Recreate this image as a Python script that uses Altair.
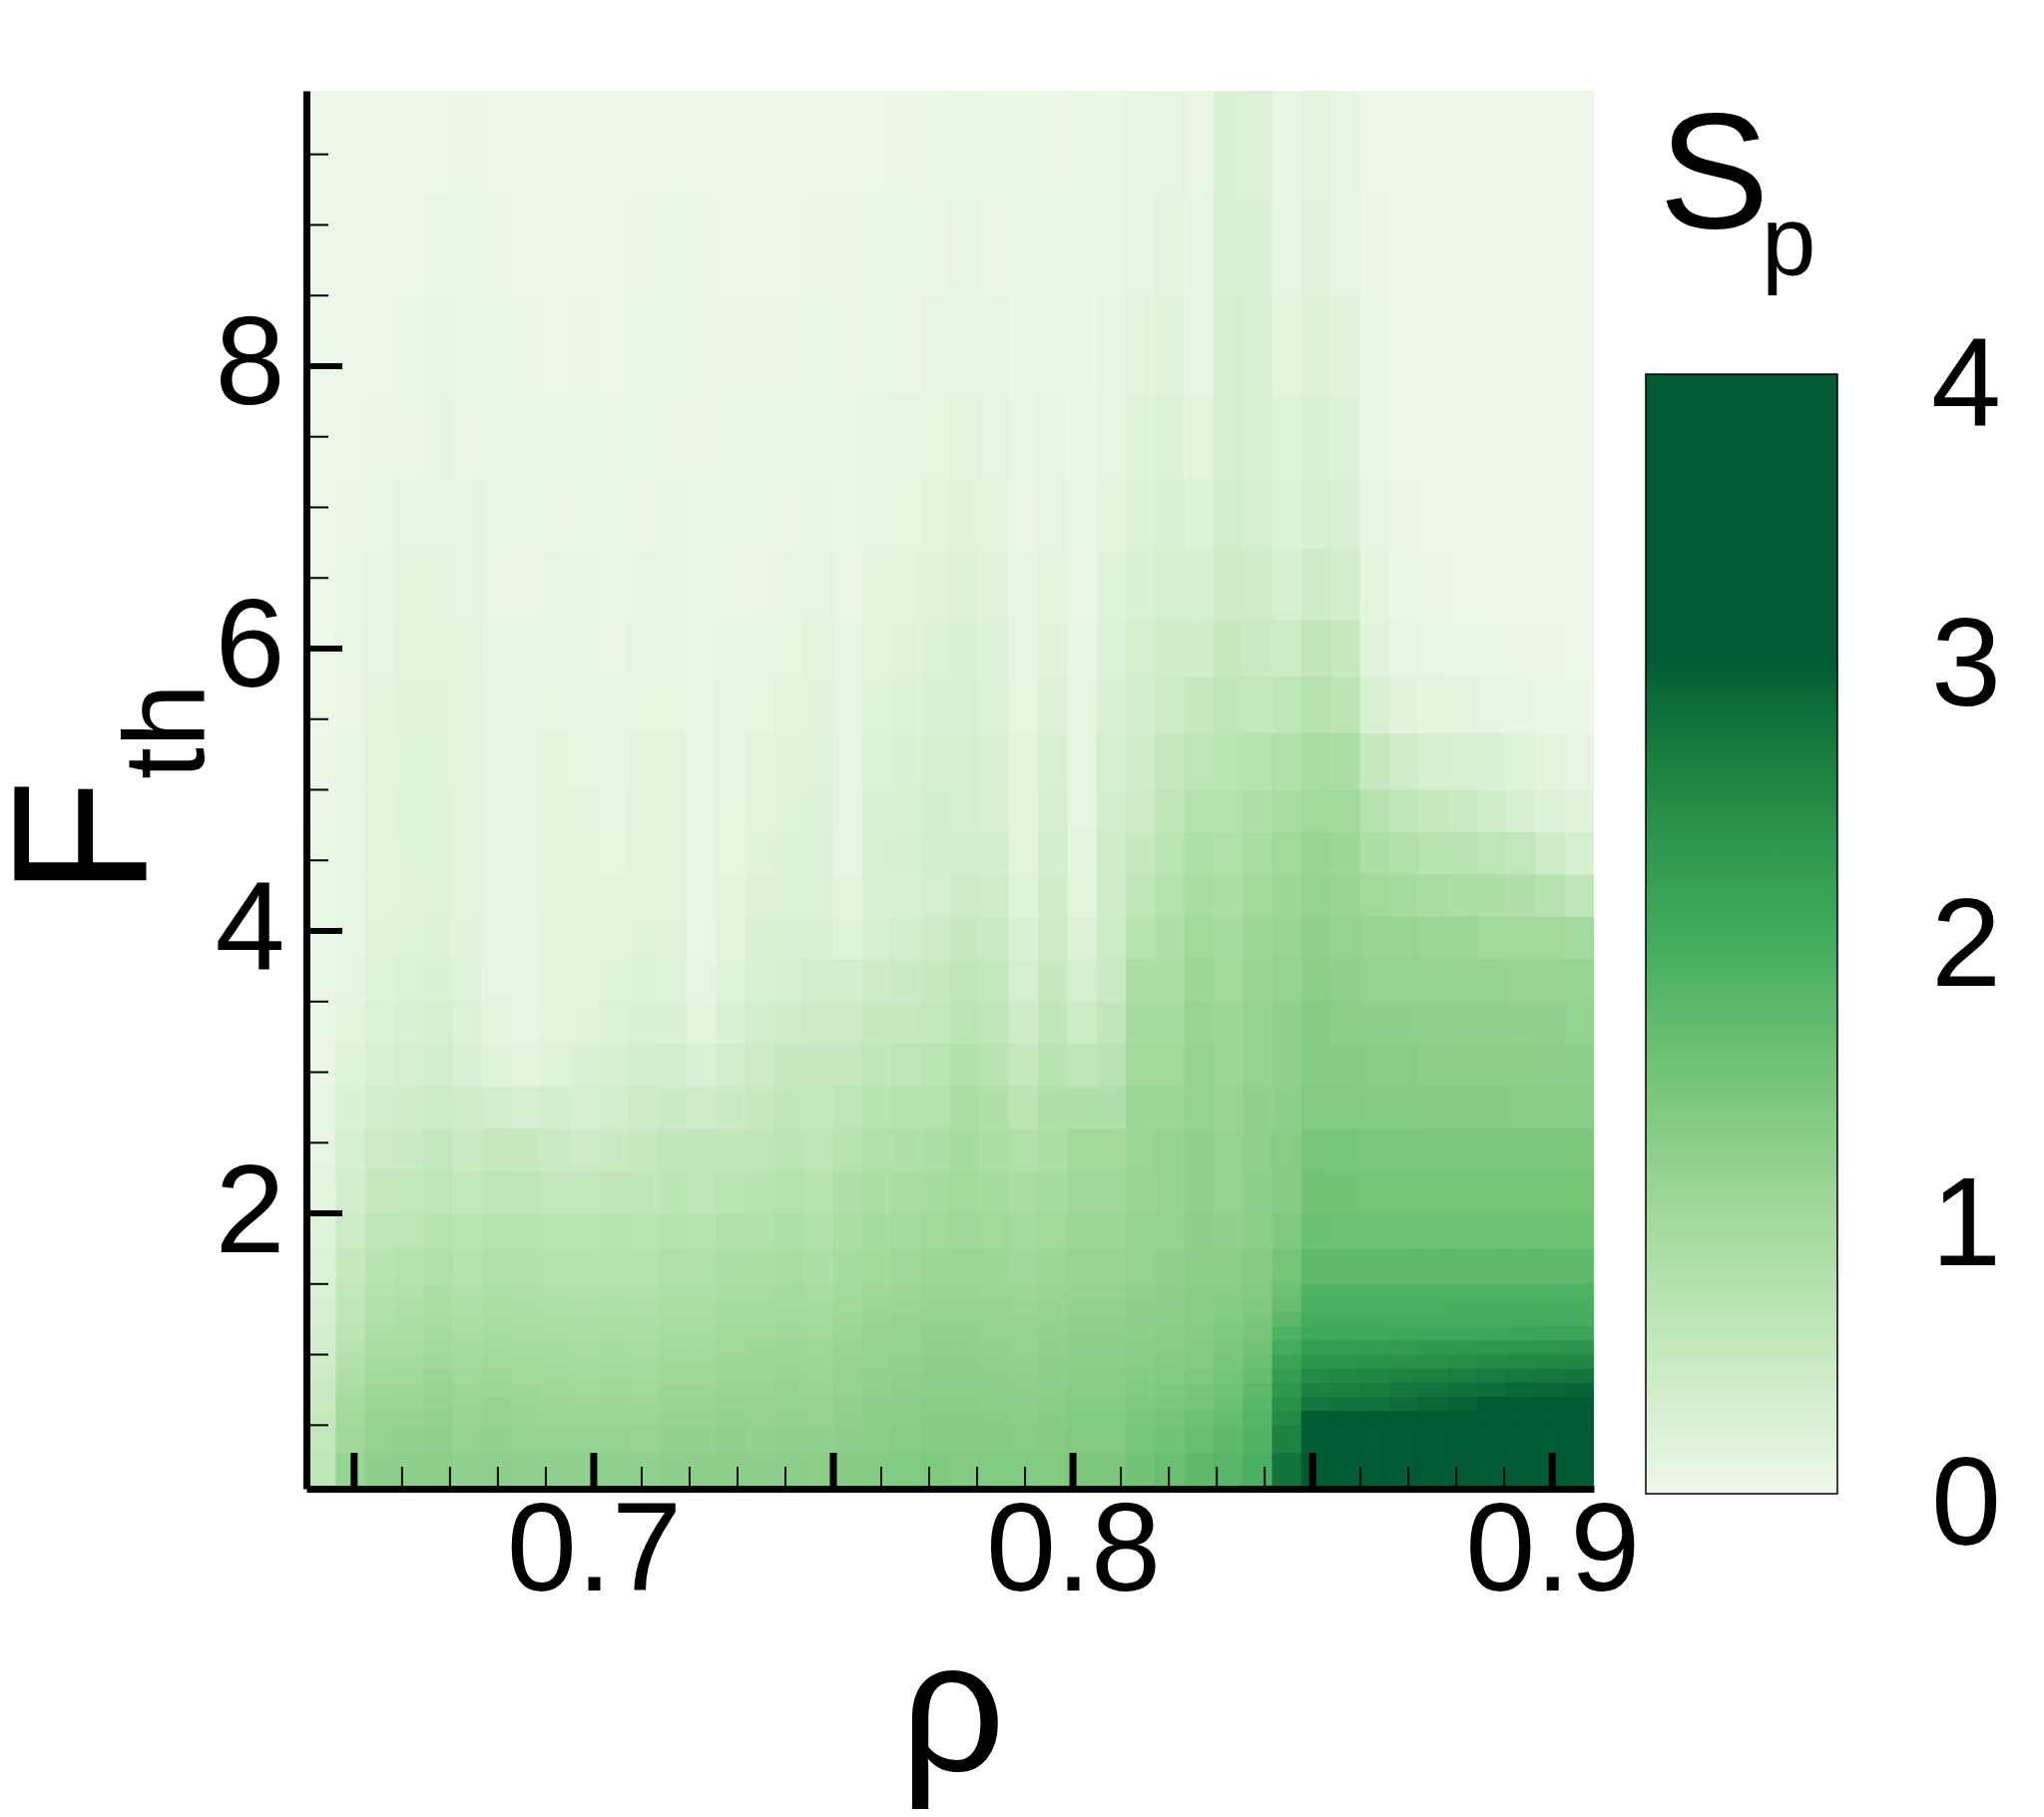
import altair as alt
import pandas as pd

# ---- axis ticks ----
x_labelled = [0.7, 0.8, 0.9]
x_major = [0.65, 0.70, 0.75, 0.80, 0.85, 0.90]
x_minor = [0.66, 0.67, 0.68, 0.69, 0.71, 0.72, 0.73, 0.74, 0.76, 0.77, 0.78, 0.79,
           0.81, 0.82, 0.83, 0.84, 0.86, 0.87, 0.88, 0.89]
y_major = [2, 4, 6, 8]
y_minor = [0.5, 1, 1.5, 2.5, 3, 3.5, 4.5, 5, 5.5, 6.5, 7, 7.5, 8.5, 9, 9.5]
legend_ticks = [0, 1, 2, 3, 4]
x_domain = [0.64004, 0.90869]
y_domain = [0.05, 9.95]

# ---- colour map of the bar ----
color_stops = [0, 0.5, 1, 1.5, 2, 2.5, 3, 4]
color_range = ["#edf8e9", "#c7e9c0", "#a1d99b", "#74c476", "#41ab5d", "#238b45", "#005a32", "#005a32"]

# ---- field values, top row first ----
n_cols = 44
row_edges = [9.95, 9.2, 8.5, 7.8, 7.2, 6.7, 6.2, 5.8, 5.4, 5.0, 4.7, 4.4, 4.1, 3.8, 3.5, 3.2, 2.9, 2.6,
             2.3, 2.0, 1.75, 1.5, 1.4, 1.3, 1.2, 1.1, 1.0, 0.9, 0.8, 0.7, 0.6, 0.5, 0.3, 0.05]
S_rows = [
 [.02,.02,.02,.02,.03,.04,.03,.03,.02,.02,.02,.03,.03,.03,.02,.02,.02,.03,.03,.03,.04,.05,.06,.05,.05,.04,.06,.05,.08,.10,.07,.25,.22,.08,.14,.08,.03,.02,.02,.02,.02,.02,.02,.02],
 [.02,.02,.02,.03,.06,.05,.04,.03,.03,.03,.03,.04,.05,.04,.03,.03,.03,.04,.04,.05,.05,.07,.08,.07,.05,.05,.05,.06,.10,.13,.08,.27,.24,.09,.16,.10,.04,.02,.02,.02,.02,.02,.02,.02],
 [.02,.02,.03,.05,.08,.06,.05,.04,.03,.04,.03,.05,.06,.04,.04,.04,.04,.05,.04,.06,.07,.09,.10,.08,.05,.06,.05,.08,.14,.18,.08,.30,.26,.12,.20,.16,.05,.02,.02,.02,.02,.02,.02,.02],
 [.02,.03,.04,.07,.09,.07,.06,.05,.05,.05,.04,.06,.07,.04,.05,.05,.05,.06,.05,.08,.09,.11,.12,.10,.06,.08,.05,.10,.18,.22,.12,.32,.28,.18,.24,.20,.06,.03,.02,.02,.02,.02,.02,.02],
 [.03,.04,.06,.09,.10,.09,.06,.06,.07,.06,.05,.07,.08,.05,.06,.06,.07,.08,.06,.10,.11,.13,.16,.13,.07,.10,.06,.14,.22,.27,.20,.36,.32,.22,.30,.26,.08,.04,.03,.02,.02,.02,.02,.02],
 [.03,.05,.08,.12,.12,.10,.07,.07,.08,.08,.06,.08,.09,.05,.07,.07,.09,.10,.07,.13,.13,.16,.20,.16,.08,.12,.07,.18,.27,.32,.30,.42,.40,.32,.42,.34,.12,.05,.04,.03,.03,.02,.02,.02],
 [.03,.06,.10,.14,.14,.12,.08,.08,.10,.09,.07,.10,.10,.06,.08,.09,.11,.13,.08,.15,.16,.20,.24,.20,.10,.16,.08,.22,.33,.38,.38,.50,.46,.45,.58,.50,.16,.08,.06,.05,.05,.04,.04,.03],
 [.03,.07,.12,.16,.16,.14,.09,.09,.11,.10,.08,.11,.11,.06,.09,.11,.14,.16,.09,.18,.20,.25,.26,.22,.11,.22,.09,.26,.36,.45,.50,.58,.56,.60,.72,.65,.28,.16,.12,.12,.10,.08,.06,.05],
 [.04,.08,.14,.17,.17,.14,.10,.10,.12,.11,.09,.12,.12,.06,.10,.13,.16,.18,.10,.22,.24,.30,.30,.26,.12,.28,.10,.32,.40,.52,.62,.66,.68,.78,.90,.85,.50,.40,.30,.28,.24,.18,.12,.10],
 [.04,.08,.15,.18,.18,.14,.10,.10,.13,.12,.10,.13,.13,.06,.11,.15,.18,.20,.10,.26,.28,.34,.32,.28,.13,.32,.10,.34,.42,.58,.72,.72,.80,.90,1.0,1.0,.72,.60,.50,.48,.40,.30,.20,.16],
 [.05,.08,.14,.17,.18,.14,.10,.10,.12,.12,.11,.14,.14,.06,.11,.17,.20,.22,.10,.28,.30,.34,.36,.34,.15,.34,.12,.38,.50,.64,.82,.78,.90,1.0,1.1,1.05,.85,.78,.70,.68,.62,.55,.42,.30],
 [.05,.08,.14,.16,.18,.14,.10,.10,.12,.12,.12,.15,.14,.06,.12,.19,.20,.22,.12,.26,.28,.32,.42,.40,.18,.38,.15,.40,.60,.72,.90,.85,.98,1.05,1.15,1.1,1.0,.95,.90,.85,.85,.80,.72,.60],
 [.05,.08,.16,.18,.20,.16,.10,.08,.12,.12,.14,.18,.16,.06,.14,.24,.26,.28,.18,.32,.36,.42,.50,.46,.24,.42,.20,.45,.70,.80,1.0,.92,1.05,1.1,1.2,1.15,1.1,1.1,1.05,1.05,1.0,1.0,1.0,.95],
 [.06,.10,.18,.22,.24,.18,.10,.08,.12,.14,.18,.20,.18,.08,.18,.28,.32,.36,.34,.42,.46,.50,.58,.54,.32,.50,.32,.48,.85,.85,1.05,1.0,1.1,1.15,1.25,1.2,1.15,1.15,1.15,1.15,1.12,1.1,1.1,1.1],
 [.06,.14,.22,.26,.30,.22,.12,.10,.14,.16,.22,.26,.24,.14,.26,.36,.40,.44,.44,.50,.52,.56,.66,.60,.42,.58,.45,.58,.95,.92,1.1,1.05,1.15,1.2,1.3,1.25,1.22,1.22,1.2,1.2,1.2,1.18,1.18,1.15],
 [.07,.18,.28,.32,.36,.26,.18,.14,.18,.24,.30,.34,.34,.24,.36,.44,.50,.52,.52,.58,.62,.66,.76,.70,.52,.68,.62,.68,1.0,1.0,1.12,1.08,1.15,1.2,1.32,1.3,1.28,1.28,1.25,1.25,1.25,1.25,1.22,1.22],
 [.08,.25,.36,.38,.45,.40,.36,.30,.34,.30,.36,.42,.46,.40,.48,.50,.58,.56,.62,.68,.72,.74,.86,.80,.65,.80,.80,.80,1.05,1.08,1.15,1.1,1.18,1.22,1.35,1.33,1.32,1.32,1.3,1.3,1.3,1.28,1.28,1.28],
 [.10,.30,.44,.46,.55,.48,.52,.50,.46,.42,.48,.50,.58,.58,.58,.60,.66,.62,.70,.78,.80,.84,.92,.85,.78,.85,.98,.98,1.08,1.12,1.18,1.12,1.2,1.28,1.45,1.44,1.42,1.42,1.42,1.42,1.42,1.42,1.42,1.42],
 [.14,.36,.52,.54,.62,.56,.62,.60,.56,.54,.58,.58,.64,.62,.66,.68,.74,.70,.80,.86,.90,.92,.98,.92,.88,.92,1.02,1.02,1.1,1.12,1.2,1.15,1.22,1.3,1.5,1.5,1.48,1.48,1.48,1.48,1.48,1.48,1.48,1.48],
 [.18,.42,.60,.62,.70,.64,.70,.68,.66,.64,.68,.66,.72,.70,.76,.78,.82,.78,.86,.92,.96,1.0,1.02,1.0,.96,1.0,1.06,1.05,1.12,1.15,1.22,1.2,1.25,1.38,1.58,1.56,1.56,1.56,1.55,1.55,1.55,1.55,1.55,1.55],
 [.22,.50,.68,.72,.78,.72,.78,.76,.74,.72,.74,.72,.78,.78,.84,.86,.90,.84,.92,.98,1.02,1.06,1.08,1.05,1.02,1.06,1.1,1.1,1.15,1.2,1.25,1.25,1.3,1.48,1.72,1.72,1.72,1.72,1.72,1.72,1.72,1.72,1.72,1.72],
 [.27,.56,.72,.76,.83,.78,.82,.80,.78,.76,.78,.76,.82,.82,.88,.90,.94,.90,.96,1.02,1.06,1.10,1.10,1.08,1.06,1.10,1.13,1.13,1.18,1.21,1.27,1.28,1.33,1.56,1.84,1.84,1.86,1.86,1.86,1.86,1.86,1.86,1.86,1.86],
 [.29,.60,.76,.80,.87,.82,.86,.84,.82,.80,.82,.80,.86,.86,.92,.94,.97,.94,1.0,1.06,1.09,1.13,1.13,1.11,1.09,1.13,1.16,1.16,1.21,1.23,1.28,1.31,1.37,1.64,1.92,1.92,1.92,1.92,1.92,1.93,1.93,1.93,1.93,1.93],
 [.31,.61,.79,.83,.90,.85,.89,.87,.85,.83,.85,.83,.89,.89,.95,.97,.99,.97,1.03,1.09,1.11,1.15,1.15,1.13,1.11,1.15,1.19,1.19,1.23,1.25,1.29,1.34,1.40,1.74,1.98,1.98,1.98,1.98,1.98,1.98,1.98,1.98,1.98,1.98],
 [.34,.65,.83,.86,.94,.88,.92,.90,.88,.86,.88,.86,.92,.92,.98,1.0,1.02,1.0,1.06,1.11,1.13,1.17,1.17,1.15,1.13,1.17,1.21,1.21,1.25,1.27,1.31,1.37,1.45,1.86,2.05,2.05,2.05,2.06,2.06,2.07,2.07,2.08,2.09,2.1],
 [.37,.70,.88,.90,.98,.92,.96,.94,.92,.90,.92,.90,.96,.96,1.01,1.03,1.05,1.03,1.09,1.13,1.15,1.19,1.19,1.17,1.15,1.19,1.23,1.23,1.27,1.29,1.33,1.40,1.52,1.98,2.2,2.2,2.22,2.24,2.26,2.28,2.3,2.32,2.34,2.35],
 [.40,.76,.93,.95,1.02,.96,1.0,.98,.96,.94,.96,.94,1.0,1.0,1.04,1.05,1.07,1.05,1.11,1.15,1.17,1.21,1.21,1.19,1.17,1.21,1.25,1.25,1.29,1.32,1.36,1.44,1.58,2.12,2.35,2.36,2.38,2.4,2.42,2.45,2.48,2.5,2.53,2.55],
 [.43,.82,.98,1.0,1.06,1.0,1.03,1.0,.98,.96,.98,.96,1.02,1.02,1.06,1.07,1.09,1.07,1.13,1.17,1.19,1.23,1.23,1.21,1.19,1.23,1.27,1.27,1.31,1.34,1.38,1.48,1.64,2.22,2.5,2.52,2.55,2.58,2.6,2.63,2.66,2.68,2.7,2.72],
 [.46,.88,1.03,1.04,1.1,1.04,1.07,1.04,1.02,1.0,1.02,1.0,1.06,1.06,1.1,1.09,1.12,1.09,1.15,1.19,1.21,1.25,1.25,1.23,1.21,1.25,1.29,1.29,1.34,1.38,1.43,1.54,1.72,2.32,2.6,2.62,2.65,2.7,2.74,2.78,2.82,2.86,2.88,2.9],
 [.49,.93,1.08,1.08,1.13,1.07,1.11,1.07,1.05,1.03,1.05,1.03,1.09,1.09,1.13,1.11,1.14,1.11,1.17,1.21,1.23,1.27,1.27,1.25,1.23,1.27,1.31,1.31,1.37,1.41,1.48,1.58,1.76,2.42,2.72,2.74,2.76,2.82,2.86,2.9,3.02,3.05,3.05,3.05],
 [.52,.98,1.12,1.12,1.16,1.1,1.14,1.1,1.08,1.06,1.08,1.06,1.12,1.12,1.16,1.14,1.16,1.14,1.2,1.24,1.26,1.3,1.3,1.28,1.26,1.3,1.34,1.34,1.42,1.47,1.56,1.64,1.8,2.5,3.0,3.05,3.1,3.15,3.2,3.2,3.2,3.2,3.2,3.2],
 [.55,1.02,1.15,1.16,1.2,1.14,1.16,1.14,1.12,1.12,1.12,1.1,1.16,1.16,1.18,1.16,1.2,1.18,1.22,1.26,1.28,1.32,1.32,1.3,1.28,1.32,1.36,1.36,1.46,1.52,1.62,1.7,1.85,2.6,3.2,3.2,3.2,3.2,3.2,3.2,3.2,3.2,3.2,3.2],
 [.62,1.1,1.22,1.24,1.26,1.2,1.22,1.2,1.2,1.2,1.2,1.18,1.22,1.24,1.24,1.22,1.26,1.26,1.3,1.32,1.34,1.38,1.36,1.34,1.34,1.36,1.4,1.42,1.52,1.6,1.72,1.78,1.92,2.75,3.2,3.2,3.2,3.2,3.2,3.2,3.2,3.2,3.2,3.2],
]

# ---- text ----
text_F = ["F"]
text_th = ["th"]
text_S = ["S"]
text_p = ["p"]
text_rho = ["\u03c1"]
FONT = "Liberation Sans"

col_w = (x_domain[1] - x_domain[0]) / n_cols
records = []
for r, row in enumerate(S_rows):
    for c, v in enumerate(row):
        # each cell overlaps its neighbour by a hair so that no seams show between rectangles
        records.append({"x0": x_domain[0] + c * col_w, "x1": x_domain[0] + (c + 1) * col_w + 0.0003,
                        "y0": row_edges[r + 1] - 0.01, "y1": row_edges[r], "S": v})
field = pd.DataFrame(records)

W, H = 1290, 1401
x_scale = alt.Scale(domain=x_domain, nice=False, zero=False)
y_scale = alt.Scale(domain=y_domain, nice=False, zero=False)
c_scale = alt.Scale(domain=color_stops, range=color_range, interpolate="rgb")

heat = alt.Chart(field).mark_rect(clip=True).encode(
    x=alt.X("x0:Q", scale=x_scale, title=None,
            axis=alt.Axis(values=x_labelled, format=".1f", ticks=False, grid=False,
                          domainWidth=7, domainColor="black", labelFont=FONT, labelFontSize=126,
                          labelColor="black", labelPadding=1, zindex=2, labelFlush=False,
                          labelOverlap=False)),
    x2="x1:Q",
    y=alt.Y("y0:Q", scale=y_scale, title=None,
            axis=alt.Axis(values=y_major, format="d", ticks=False, grid=False,
                          domainWidth=7, domainColor="black", labelFont=FONT, labelFontSize=126,
                          labelColor="black", labelPadding=22, zindex=2, labelFlush=False,
                          labelOverlap=False)),
    y2="y1:Q",
    color=alt.Color("S:Q", scale=c_scale, title=None,
                    legend=alt.Legend(type="gradient", orient="none", legendX=1342, legendY=284,
                                      gradientLength=1122, gradientThickness=192,
                                      gradientStrokeColor="black", gradientStrokeWidth=1.5,
                                      values=legend_ticks, labelExpr="''", labelFontSize=1,
                                      padding=0)),
)

# labels of the colour bar, placed through a scale of their own
bar_labels = alt.Chart(pd.DataFrame({"v": legend_ticks})).mark_text(
    font=FONT, fontSize=126, color="black", align="left", baseline="middle"
).encode(
    text=alt.Text("v:Q", format="d"),
    x=alt.value(1628),
    y=alt.Y("v:Q", scale=alt.Scale(domain=[0, 4], range=[1419, 298]), axis=None),
)


def x_ticks(values, top, width):
    return alt.Chart(pd.DataFrame({"t": values})).mark_rule(color="black", strokeWidth=width).encode(
        x=alt.X("t:Q", scale=x_scale), y=alt.value(H), y2=alt.value(top))


def y_ticks(values, right, width):
    return alt.Chart(pd.DataFrame({"t": values})).mark_rule(color="black", strokeWidth=width).encode(
        y=alt.Y("t:Q", scale=y_scale, axis=None), x=alt.value(0), x2=alt.value(right))


def label(text, px, py, size, angle=0):
    return alt.Chart(pd.DataFrame({"t": text})).mark_text(
        font=FONT, fontSize=size, color="black", align="left", baseline="alphabetic", angle=angle
    ).encode(text="t:N", x=alt.value(px), y=alt.value(py))


layers = [
    heat,
    x_ticks(x_major, 1365, 7),
    x_ticks(x_minor, 1379, 2),
    y_ticks(y_major, 36, 6),
    y_ticks(y_minor, 22, 2),
    bar_labels,
    label(text_F, 146 - 307, 898 - 91, 192, 270),
    label(text_th, 204 - 307, 781 - 91, 115, 270),
    label(text_S, 1662 - 307, 228 - 91, 166),
    label(text_p, 1765 - 307, 276 - 91, 98),
    label(text_rho, 902 - 307, 1775 - 91, 185),
]
chart = alt.layer(*layers).resolve_scale(y="independent").properties(
    width=W, height=H,
    background="white",
    autosize=alt.AutoSizeParams(type="none"),
    padding={"left": 299, "top": 83, "right": 443, "bottom": 321},
).configure_view(stroke=None)

chart.save("out.html", embed_options={"renderer": "svg", "actions": False})
